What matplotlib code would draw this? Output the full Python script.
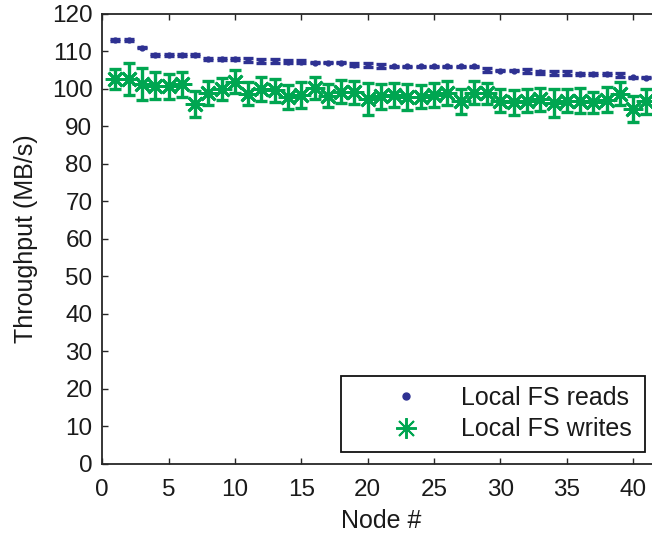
import matplotlib
matplotlib.use("Agg")
import matplotlib.pyplot as plt
from matplotlib.lines import Line2D

plt.rcParams['font.family'] = ['Liberation Sans', 'DejaVu Sans']

nodes = list(range(1, 42))
reads = [113.0, 113.0, 111.0, 109.0, 109.0, 109.0, 109.0, 108.0, 108.0, 108.0,
         107.7, 107.5, 107.5, 107.3, 107.3, 107.0, 107.0, 107.0, 106.5, 106.3,
         106.2, 106.0, 106.0, 106.0, 106.0, 106.0, 106.0, 106.0, 105.1, 104.9,
         104.9, 104.7, 104.4, 104.3, 104.2, 104.0, 104.0, 104.0, 103.8, 103.1,
         103.0]
reads_err = [0.2, 0.2, 0.2, 0.2, 0.2, 0.2, 0.2, 0.2, 0.2, 0.2,
             0.5, 0.5, 0.5, 0.5, 0.5, 0.2, 0.2, 0.2, 0.5, 0.5,
             0.5, 0.2, 0.2, 0.2, 0.2, 0.2, 0.2, 0.2, 0.5, 0.2,
             0.2, 0.5, 0.5, 0.5, 0.5, 0.2, 0.2, 0.2, 0.5, 0.2,
             0.2]
writes = [102.6, 102.6, 101.3, 100.9, 100.7, 101.2, 96.0, 99.0, 100.0, 101.9,
          98.7, 100.0, 99.6, 97.8, 98.4, 100.3, 98.2, 99.3, 99.1, 97.3,
          98.0, 98.3, 97.8, 97.9, 98.4, 98.9, 96.7, 99.0, 98.8, 96.9,
          96.4, 96.9, 97.2, 96.3, 96.9, 96.9, 96.4, 97.1, 98.7, 94.6,
          96.7]
writes_err = [2.7, 4.2, 4.3, 3.5, 3.3, 3.3, 3.5, 3.2, 2.9, 3.1,
              3.1, 3.1, 3.1, 3.2, 3.4, 2.9, 3.1, 3.1, 3.1, 4.2,
              3.3, 3.2, 3.4, 3.1, 3.1, 3.1, 3.3, 3.0, 2.9, 3.1,
              3.4, 3.1, 3.1, 3.8, 3.1, 3.4, 2.9, 3.3, 3.1, 3.4,
              3.3]

xticks = [0, 5, 10, 15, 20, 25, 30, 35, 40]
yticks = list(range(0, 121, 10))

blue = '#2E3192'
green = '#00A651'
dark = '#262626'

fig = plt.figure(figsize=(6.52, 5.33), dpi=100)
ax = fig.add_axes([102.2 / 652, 69.5 / 533, 557.5 / 652, 449.5 / 533])

ax.errorbar(nodes, writes, yerr=writes_err, fmt='none', ecolor=green,
            elinewidth=2.4, capsize=4, capthick=2.4, zorder=2)
ax.plot(nodes, writes, linestyle='none', marker=(8, 2, 0), markersize=14,
        markeredgewidth=2.0, color=green, zorder=3)
ax.errorbar(nodes, reads, yerr=reads_err, fmt='none', ecolor=blue,
            elinewidth=2.2, capsize=3.5, capthick=2.4, zorder=4)
ax.plot(nodes, reads, linestyle='none', marker='o', markersize=3.5,
        color=blue, zorder=5)

ax.set_xlim(0, 42)
ax.set_ylim(0, 120)
ax.set_xticks(xticks)
ax.set_yticks(yticks)
ax.tick_params(direction='in', length=4, width=1.0, colors=dark,
               labelcolor='#1a1a1a', labelsize=17.5, top=True, right=True)
ax.tick_params(axis='y', pad=7)
ax.tick_params(axis='x', pad=11)
for s in ax.spines.values():
    s.set_color(dark)
    s.set_linewidth(1.3)

ax.set_xlabel('Node #', fontsize=18, color='#1a1a1a', labelpad=6)
ax.set_ylabel('Throughput (MB/s)', fontsize=18, color='#1a1a1a', labelpad=10)

handles = [Line2D([], [], linestyle='none', marker='o', markersize=5, color=blue),
           Line2D([], [], linestyle='none', marker=(8, 2, 0), markersize=15,
                  markeredgewidth=1.4, color=green)]
leg = fig.legend(handles, ['Local FS reads', 'Local FS writes'],
                 loc='upper left', mode='expand',
                 bbox_to_anchor=(341 / 652, (533 - 448) / 533, 304 / 652, 72 / 533),
                 fontsize=18, frameon=True, fancybox=False, framealpha=1,
                 edgecolor='#111111', borderpad=0.4, handlelength=4.4,
                 handletextpad=0.0, labelspacing=0.3, borderaxespad=0,
                 numpoints=1)
leg.get_frame().set_linewidth(1.3)
for t in leg.get_texts():
    t.set_color('#1a1a1a')

fig.savefig('out.png', dpi=100)
